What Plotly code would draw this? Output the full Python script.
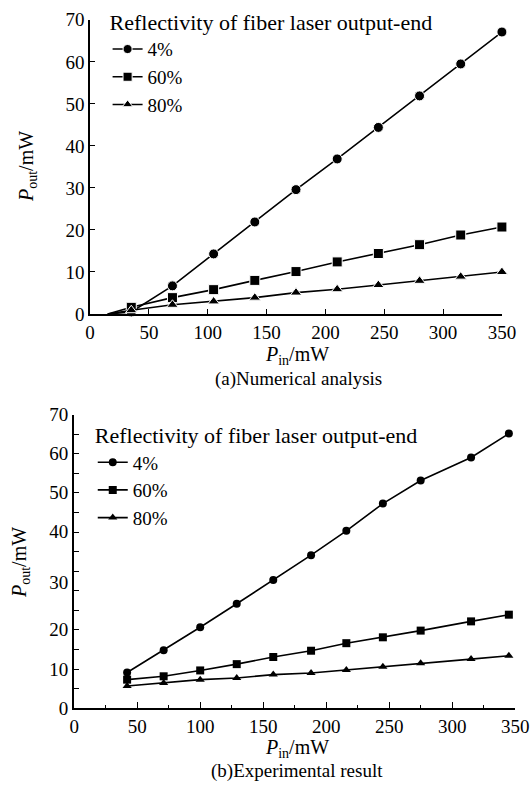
import plotly.graph_objects as go

# ---- data: (a) numerical analysis ----
pin_num = [15, 35, 70, 105, 140, 175, 210, 245, 280, 315, 350]
num_4 = [0, 0.5, 6.7, 14.3, 21.9, 29.6, 36.9, 44.4, 51.9, 59.5, 67.1]
num_60 = [0, 1.6, 3.9, 5.8, 8.0, 10.1, 12.4, 14.4, 16.5, 18.8, 20.7]
num_80 = [0, 0.9, 2.2, 3.0, 3.9, 5.1, 5.9, 6.9, 7.9, 8.9, 10.0]

# ---- data: (b) experimental result ----
pin_exp = [42, 71, 100, 129, 158, 188, 216, 245, 275, 315, 345]
exp_4 = [8.5, 13.8, 19.3, 24.9, 30.6, 36.5, 42.3, 48.8, 54.3, 59.8, 65.5]
exp_60 = [6.8, 7.6, 9.0, 10.5, 12.2, 13.7, 15.5, 16.9, 18.5, 20.7, 22.3]
exp_80 = [5.3, 6.0, 6.8, 7.2, 8.0, 8.4, 9.1, 9.9, 10.7, 11.7, 12.5]

series_names = ["4%", "60%", "80%"]
legend_title = "Reflectivity of fiber laser output-end"

# tick labels of panel (b) (as printed, at their printed heights)
exp_tick_vals = [0, 9.3, 18.9, 30.0, 42.1, 51.5, 60.9, 70]
exp_tick_text = ["0", "10", "20", "30", "40", "50", "60", "70"]

FONT = "Liberation Serif"
symbols = ["circle", "square", "triangle-up"]

fig = go.Figure()

for name, ys, sym in zip(series_names, [num_4, num_60, num_80], symbols):
    sizes = [0] + [10] * (len(ys) - 1)
    fig.add_trace(go.Scatter(
        x=pin_num, y=ys, name=name, mode="lines+markers",
        line=dict(color="black", width=1.6),
        marker=dict(symbol=sym, size=sizes, color="black", opacity=1),
        xaxis="x", yaxis="y", legend="legend", cliponaxis=False,
    ))

for name, ys, sym in zip(series_names, [exp_4, exp_60, exp_80], symbols):
    fig.add_trace(go.Scatter(
        x=pin_exp, y=ys, name=name, mode="lines+markers",
        line=dict(color="black", width=1.6),
        marker=dict(symbol=sym, size=8, color="black", opacity=1),
        xaxis="x2", yaxis="y2", legend="legend2", cliponaxis=False,
    ))

axis_common = dict(
    showline=True, linecolor="black", showgrid=False, zeroline=False, automargin=False,
    ticks="inside", tickcolor="black", tickfont=dict(family=FONT, size=19, color="black"),
)

def note(text, x_px, y_px, angle=0, size=18):
    return dict(text=text, x=x_px / 530, y=1 - y_px / 793, xref="paper", yref="paper",
                xanchor="center", yanchor="middle", showarrow=False, textangle=angle,
                font=dict(family=FONT, size=size, color="black"))

fig.update_layout(
    width=530, height=793, autosize=False,
    margin=dict(l=0, r=0, t=0, b=0, autoexpand=False),
    paper_bgcolor="white", plot_bgcolor="white",
    font=dict(family=FONT, size=17, color="black"),
    xaxis=dict(domain=[0.170, 0.947], anchor="y", range=[0, 350], dtick=50, tick0=0,
               linewidth=1.5, ticklen=5, **axis_common),
    yaxis=dict(domain=[0.604, 0.975], anchor="x", range=[0, 70], dtick=10, tick0=0,
               linewidth=1.5, ticklen=5, **axis_common),
    xaxis2=dict(domain=[0.140, 0.972], anchor="y2", range=[0, 350], dtick=50, tick0=0,
                linewidth=2.2, ticklen=6,
                minor=dict(dtick=25, tick0=0, ticks="inside", ticklen=3, tickcolor="black"),
                **axis_common),
    yaxis2=dict(domain=[0.107, 0.477], anchor="x2", range=[0, 70],
                tickmode="array", tickvals=exp_tick_vals, ticktext=exp_tick_text,
                linewidth=2.2, ticklen=0,
                minor=dict(tickmode="linear", dtick=70 / 15, tick0=0, ticks="inside",
                           ticklen=5, tickcolor="black"),
                **axis_common),
    legend=dict(
        x=0.203, y=0.998, xanchor="left", yanchor="top",
        bgcolor="rgba(0,0,0,0)", itemwidth=30, tracegroupgap=0,
        title=dict(text=legend_title, font=dict(family=FONT, size=22)),
        font=dict(family=FONT, size=19),
    ),
    legend2=dict(
        x=0.175, y=0.477, xanchor="left", yanchor="top",
        bgcolor="rgba(0,0,0,0)", itemwidth=30, tracegroupgap=0,
        title=dict(text=legend_title, font=dict(family=FONT, size=22)),
        font=dict(family=FONT, size=19),
    ),
    annotations=[
        note("<i>P</i><sub>in</sub>/mW", 297, 355, size=20),
        note("(a)Numerical analysis", 298, 379, size=19),
        note("<i>P</i><sub>out</sub>/mW", 28, 167, -90, size=20),
        note("<i>P</i><sub>in</sub>/mW", 297, 748, size=20),
        note("(b)Experimental result", 297, 771, size=19),
        note("<i>P</i><sub>out</sub>/mW", 20, 563, -90, size=20),
    ],
    showlegend=True,
)

fig.write_html("out.html", config={"displayModeBar": False},
               post_script="document.body.style.margin='0px';")
